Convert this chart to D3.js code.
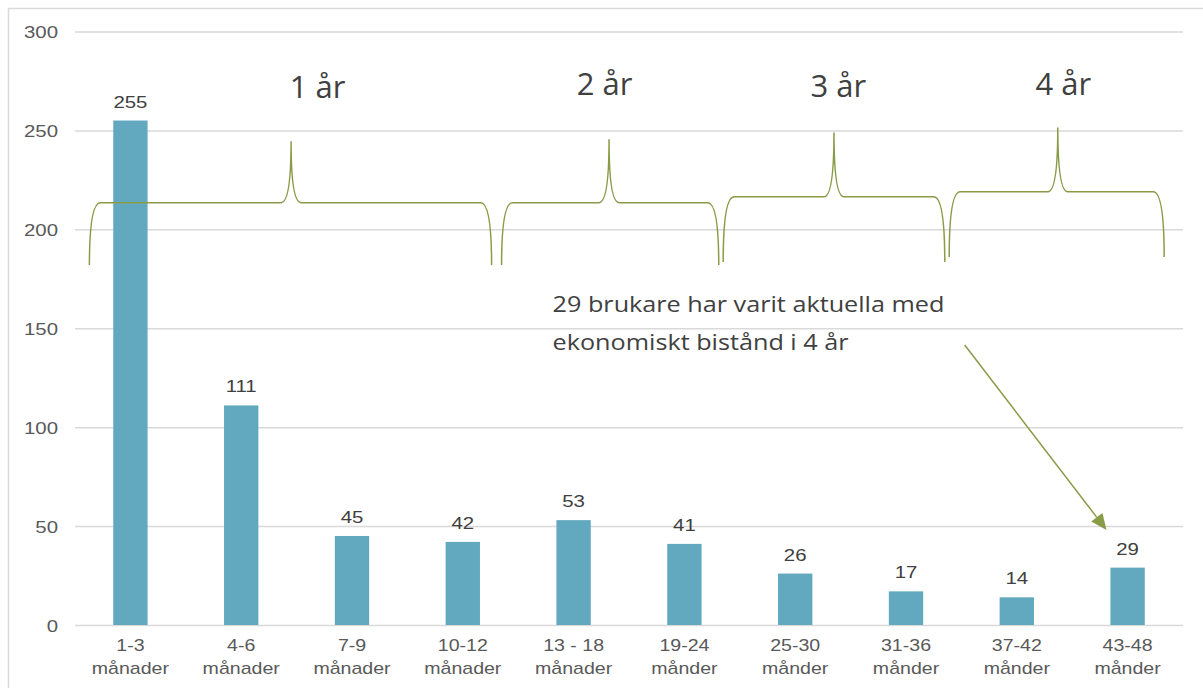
<!DOCTYPE html>
<html>
<head>
<meta charset="utf-8">
<script src="https://cdn.jsdelivr.net/npm/d3@7/dist/d3.min.js"></script>
<style>
  html, body { margin: 0; padding: 0; background: #fff; }
  svg { display: block; }
</style>
</head>
<body>
<svg id="chart" width="1203" height="688"></svg>
<script>
// ---- data ----
const categoriesLine1 = ["1-3", "4-6", "7-9", "10-12", "13 - 18", "19-24", "25-30", "31-36", "37-42", "43-48"];
const categoriesLine2 = ["månader", "månader", "månader", "månader", "månader", "månder", "månder", "månder", "månder", "månder"];
const values = [255, 111, 45, 42, 53, 41, 26, 17, 14, 29];
const yTicks = [0, 50, 100, 150, 200, 250, 300];

// Brace annotations (x in category-index units, y in data units)
const braceLabels = ["1 år", "2 år", "3 år", "4 år"];
const braceStart = [-0.37, 3.35, 5.35, 7.39];
const braceEnd   = [3.26, 5.31, 7.35, 9.33];
const bracePeakX = [1.45, 4.32, 6.35, 8.37];
const braceBottom = [182, 182, 183.5, 186];
const braceLevel  = [213.5, 213.5, 216.5, 219];
const bracePeakY  = [244.5, 245.5, 249, 251.5];
const braceLabelX = [1.69, 4.28, 6.39, 8.42];
const braceLabelY = [266.4, 267.9, 266.9, 267.9];

const noteLines = ["29 brukare har varit aktuella med", "ekonomiskt bistånd i 4 år"];
const noteX = 3.81;
const noteY = [158.2, 139];
const arrowFrom = [7.53, 141.5];
const arrowTo = [8.81, 48];

(function () {
// ---- layout ----
const svg = d3.select("#chart");
const mLeft = 75, mRight = 1183, mTop = 31.5, mBottom = 625;
const barColor = "#62a9c0";
const gridColor = "#d9d9d9";
const olive = "#8a9b47";
const arial = "Liberation Sans, Arial, sans-serif";

// stretch text horizontally (reference text is drawn wider than the font's natural width)
function stretch(sel, k) {
  sel.each(function () {
    const w = this.getComputedTextLength();
    if (w > 0) d3.select(this).attr("textLength", w * k).attr("lengthAdjust", "spacingAndGlyphs");
  });
}

const keys = categoriesLine1.map((d, i) => i);
const x = d3.scaleBand().domain(keys).range([mLeft, mRight]).paddingInner(0.69).paddingOuter(0.345);
const y = d3.scaleLinear().domain([0, 300]).range([mBottom, mTop]);
const xi = f => x(0) + x.bandwidth() / 2 + f * x.step();

// outer border
svg.append("rect").attr("x", 8.5).attr("y", 8.5).attr("width", 1210).attr("height", 700)
  .attr("fill", "none").attr("stroke", gridColor).attr("stroke-width", 1.5);

// gridlines + y axis labels
const yAxis = d3.axisLeft(y).tickValues(yTicks).tickSize(-(mRight - mLeft)).tickPadding(17);
const gy = svg.append("g").attr("transform", `translate(${mLeft},0)`).call(yAxis);
gy.select(".domain").remove();
gy.selectAll(".tick line").attr("stroke", gridColor).attr("stroke-width", 1.5);
gy.selectAll(".tick text").attr("fill", "#595959").attr("font-family", arial)
  .attr("font-size", 17).attr("dy", "0.36em");
stretch(gy.selectAll(".tick text"), 1.2);

// bars
svg.append("g").selectAll("rect").data(values).join("rect")
  .attr("x", (d, i) => x(i)).attr("y", d => y(d))
  .attr("width", x.bandwidth()).attr("height", d => y(0) - y(d))
  .attr("fill", barColor);

// value labels
const vl = svg.append("g").selectAll("text").data(values).join("text")
  .attr("x", (d, i) => x(i) + x.bandwidth() / 2).attr("y", d => y(d) - 13)
  .attr("text-anchor", "middle").attr("fill", "#404040")
  .attr("font-family", arial).attr("font-size", 17)
  .text(d => d);
stretch(vl, 1.2);

// x axis labels
const xAxis = d3.axisBottom(x).tickSize(0).tickFormat(() => "");
const gx = svg.append("g").attr("transform", `translate(0,${mBottom})`).call(xAxis);
gx.select(".domain").remove();
gx.selectAll(".tick").each(function(d) {
  const g = d3.select(this);
  [categoriesLine1[d], categoriesLine2[d]].forEach((s, j) => {
    g.append("text").attr("class", "xl").attr("x", 0).attr("y", 26 + j * 23)
      .attr("fill", "#595959").attr("font-family", arial).attr("font-size", 17)
      .attr("text-anchor", "middle").text(s);
  });
});
stretch(gx.selectAll("text.xl"), 1.15);

// braces
const braceG = svg.append("g");
braceLabels.forEach((lab, i) => {
  const x0 = xi(braceStart[i]), x1 = xi(braceEnd[i]), xp = xi(bracePeakX[i]);
  const yb = y(braceBottom[i]), yh = y(braceLevel[i]), yp = y(bracePeakY[i]);
  const r = 11, rp = 10;
  const p = d3.path();
  p.moveTo(x0, yb);
  p.quadraticCurveTo(x0, yh, x0 + r, yh);
  p.lineTo(xp - rp, yh);
  p.quadraticCurveTo(xp, yh, xp, yp);
  p.quadraticCurveTo(xp, yh, xp + rp, yh);
  p.lineTo(x1 - r, yh);
  p.quadraticCurveTo(x1, yh, x1, yb);
  braceG.append("path").attr("d", p.toString()).attr("fill", "none")
    .attr("stroke", olive).attr("stroke-width", 1.5);
  braceG.append("text").attr("x", xi(braceLabelX[i])).attr("y", y(braceLabelY[i]))
    .attr("text-anchor", "middle").attr("fill", "#404040")
    .attr("font-family", "Open Sans, sans-serif").attr("font-size", 31).text(lab);
});

// note text
const note = svg.append("g");
noteLines.forEach((line, i) => {
  note.append("text").attr("x", xi(noteX)).attr("y", y(noteY[i]))
    .attr("fill", "#404040").attr("font-family", "Open Sans, sans-serif")
    .attr("font-size", 21).text(line);
});
stretch(note.selectAll("text"), 1.2);

// arrow
const ax0 = xi(arrowFrom[0]), ay0 = y(arrowFrom[1]);
const ax1 = xi(arrowTo[0]), ay1 = y(arrowTo[1]);
const ang = Math.atan2(ay1 - ay0, ax1 - ax0);
const hl = 16, hw = 7;
const bx = ax1 - hl * Math.cos(ang), by = ay1 - hl * Math.sin(ang);
svg.append("line").attr("x1", ax0).attr("y1", ay0).attr("x2", bx).attr("y2", by)
  .attr("stroke", olive).attr("stroke-width", 1.5);
svg.append("path")
  .attr("d", `M${ax1},${ay1}L${bx + hw * Math.sin(ang)},${by - hw * Math.cos(ang)}L${bx - hw * Math.sin(ang)},${by + hw * Math.cos(ang)}Z`)
  .attr("fill", olive);
})();
</script>
</body>
</html>
